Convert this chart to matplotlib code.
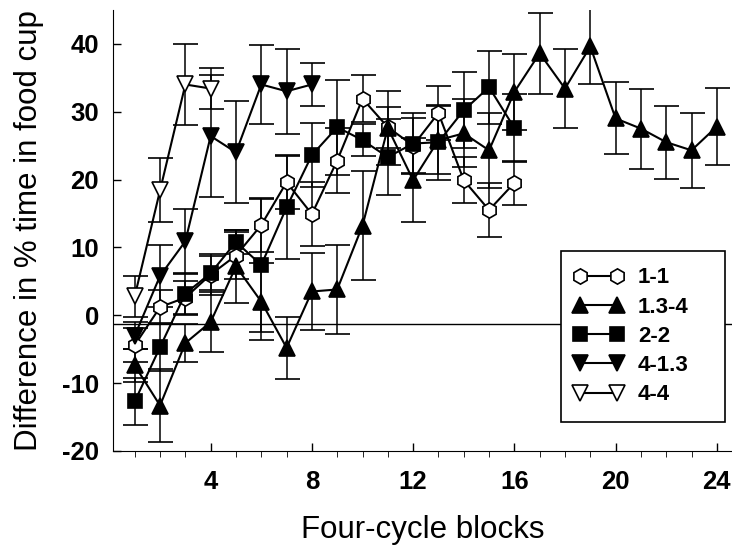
import numpy as np
import matplotlib
matplotlib.use("Agg")
import matplotlib.pyplot as plt
from matplotlib.legend_handler import HandlerLine2D

plt.rcParams['font.family'] = ['Liberation Sans', 'DejaVu Sans']
plt.rcParams['axes.unicode_minus'] = False

# data
blocks = np.arange(1, 25)

y_11 = [-4.4, 1.2, 2.6, 6.0, 8.8, 13.3, 19.6, 14.9, 22.8, 31.9, 27.7, 25.0, 29.8, 19.9, 15.5, 19.5]
e_11 = [2.5, 2.5, 2.5, 3.0, 3.5, 4.0, 4.0, 4.7, 4.8, 3.5, 3.0, 4.0, 4.0, 3.4, 4.0, 3.3]

y_134 = [-7.4, -13.3, -4.1, -1.0, 7.2, 2.0, -4.8, 3.5, 3.8, 13.2, 27.6, 19.9,
         25.8, 26.8, 24.3, 32.9, 38.6, 33.4, 39.6, 29.0, 27.5, 25.5, 24.3, 27.8]
e_134 = [2.5, 5.4, 2.8, 4.4, 5.4, 5.7, 4.6, 5.7, 6.6, 8.0, 5.5, 6.2,
         5.0, 5.0, 5.5, 5.6, 6.0, 5.8, 5.6, 5.3, 5.9, 5.4, 5.5, 5.7]

y_22 = [-12.7, -4.7, 3.2, 6.2, 10.8, 7.4, 15.9, 23.6, 27.7, 25.8, 23.3, 25.3, 25.5, 30.2, 33.6, 27.6]
e_22 = [3.4, 3.5, 3.0, 2.5, 1.8, 9.8, 7.6, 4.7, 7.0, 2.4, 5.6, 4.5, 5.5, 5.6, 5.4, 5.0]

y_413 = [-3.0, 5.8, 10.9, 26.4, 24.0, 34.0, 33.0, 34.0]
e_413 = [2.0, 4.6, 4.8, 9.0, 7.5, 5.8, 6.3, 3.1]

y_44 = [2.8, 18.4, 34.0, 33.4]
e_44 = [3.0, 4.7, 6.0, 3.0]

baseline = -1.3

series = [
    ('1-1', y_11, e_11, 'h', 'white', 11),
    ('1.3-4', y_134, e_134, '^', 'black', 12),
    ('2-2', y_22, e_22, 's', 'black', 9.5),
    ('4-1.3', y_413, e_413, 'v', 'black', 12),
    ('4-4', y_44, e_44, 'v', 'white', 12),
]

fig = plt.figure(figsize=(7.32, 5.46), dpi=100)
ax = fig.add_axes([0.154, 0.174, 0.846, 0.808])

ax.axhline(baseline, color='black', lw=1.0, zorder=1)

handles = []
for lab, y, e, m, fc, ms in series:
    x = blocks[:len(y)]
    c = ax.errorbar(x, y, yerr=e, color='black', lw=1.5, elinewidth=1.1,
                    capsize=9, capthick=1.1, marker=m, ms=ms, mfc=fc, mec='black',
                    mew=1.2, label=lab, zorder=3)
    handles.append(c[0])

ax.set_xlim(0.13, 24.6)
ax.set_ylim(-20, 45)
ax.set_xticks([4, 8, 12, 16, 20, 24])
ax.set_xticks(blocks, minor=True)
ax.set_yticks([-20, -10, 0, 10, 20, 30, 40])
ax.tick_params(axis='both', direction='in', width=1, labelsize=18.5)
ax.tick_params(axis='x', which='major', length=6, pad=14)
ax.tick_params(axis='x', which='minor', length=4)
ax.tick_params(axis='y', length=6, pad=10)
for t in ax.get_xticklabels() + ax.get_yticklabels():
    t.set_fontweight('bold')

ax.spines['top'].set_visible(False)
ax.spines['right'].set_visible(False)

ax.set_xlabel('Four-cycle blocks', fontsize=22.5, labelpad=15)
ax.set_ylabel('Difference in % time in food cup', fontsize=22.5, labelpad=13)

leg = ax.legend(handles, [s[0] for s in series], loc='lower left',
                bbox_to_anchor=(0.7238, 0.0658, 0.2649, 0.39), mode='expand',
                borderaxespad=0, numpoints=2,
                handler_map={h: HandlerLine2D(marker_pad=0.1) for h in handles},
                handlelength=1.86, handletextpad=0.85, fancybox=False, framealpha=1,
                edgecolor='black', prop={'size': 16, 'weight': 'bold'},
                borderpad=0.75, labelspacing=0.37)
leg.get_frame().set_linewidth(1.2)
leg.set_zorder(5)

fig.savefig('out.png', dpi=100)
